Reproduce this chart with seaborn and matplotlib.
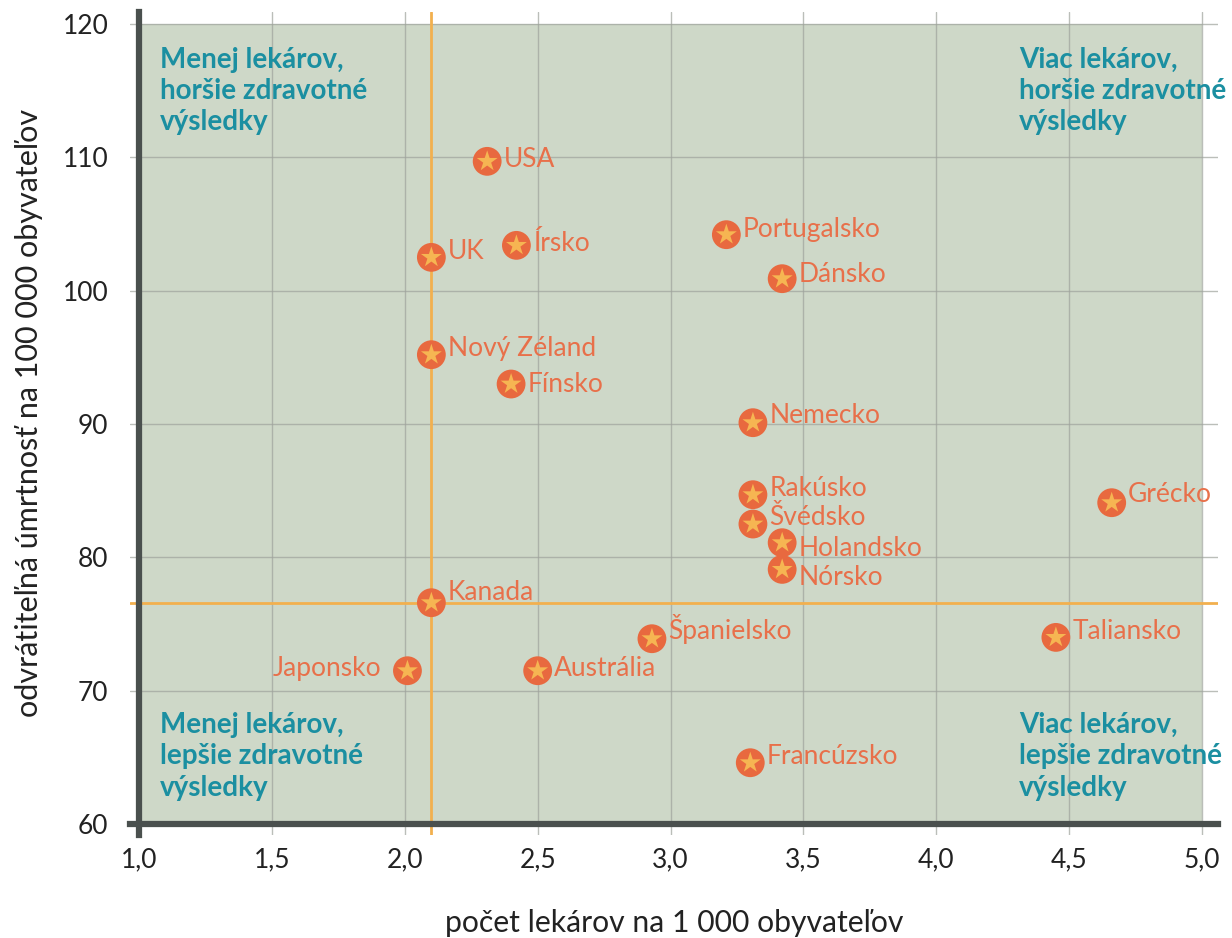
import matplotlib
matplotlib.use("Agg")
import matplotlib.pyplot as plt
import seaborn as sns
import pandas as pd
from matplotlib.patches import Rectangle

countries = ["USA", "UK", "Írsko", "Portugalsko", "Dánsko", "Nový Zéland", "Fínsko",
             "Nemecko", "Rakúsko", "Švédsko", "Holandsko", "Nórsko", "Grécko",
             "Kanada", "Španielsko", "Taliansko", "Japonsko", "Austrália", "Francúzsko"]
doctors = [2.31, 2.10, 2.42, 3.21, 3.42, 2.10, 2.40,
           3.31, 3.31, 3.31, 3.42, 3.42, 4.66,
           2.10, 2.93, 4.45, 2.01, 2.50, 3.30]
mortality = [109.7, 102.5, 103.4, 104.2, 100.9, 95.2, 93.0,
             90.1, 84.7, 82.5, 81.1, 79.1, 84.1,
             76.6, 73.9, 74.0, 71.5, 71.5, 64.6]
median_x = 2.1
median_y = 76.6
x_ticks = [1.0, 1.5, 2.0, 2.5, 3.0, 3.5, 4.0, 4.5, 5.0]
x_ticklabels = ["1,0", "1,5", "2,0", "2,5", "3,0", "3,5", "4,0", "4,5", "5,0"]
y_ticks = [60, 70, 80, 90, 100, 110, 120]
quadrants = ["Menej lekárov,\nhoršie zdravotné\nvýsledky",
             "Viac lekárov,\nhoršie zdravotné\nvýsledky",
             "Menej lekárov,\nlepšie zdravotné\nvýsledky",
             "Viac lekárov,\nlepšie zdravotné\nvýsledky"]
xlabel = "počet lekárov na 1 000 obyvateľov"
ylabel = "odvrátiteľná úmrtnosť na 100 000 obyvateľov"

# label nudges (layout only)
label_dy = {"USA": 0.15, "UK": 0.45, "Írsko": 0.15, "Portugalsko": 0.4, "Dánsko": 0.3,
            "Nový Zéland": 0.5, "Fínsko": 0.0, "Nemecko": 0.55, "Rakúsko": 0.45,
            "Švédsko": 0.5, "Holandsko": -0.45, "Nórsko": -0.6, "Grécko": 0.6,
            "Kanada": 0.75, "Španielsko": 0.7, "Taliansko": 0.45, "Japonsko": 0.15,
            "Austrália": 0.15, "Francúzsko": 0.5}

df = pd.DataFrame({"country": countries, "x": doctors, "y": mortality})

sns.set_theme(style="white")
plt.rcParams['font.family'] = ['Lato', 'DejaVu Sans']

fig = plt.figure(figsize=(12.32, 9.38), dpi=100)
ax = fig.add_axes([130/1232, 1 - 835/938, (1218-130)/1232, (835-12)/938])
ax.set_facecolor("white")

ax.set_xlim(0.966, 5.06)
ax.set_ylim(59.18, 120.9)

ax.add_patch(Rectangle((1.0, 60), 4.0, 60, facecolor="#CED8C8", edgecolor="none", zorder=0))

for xv in x_ticks:
    ax.axvline(xv, color="#9EA39C", lw=1.0, alpha=0.7, zorder=1)
for yv in y_ticks:
    ax.axhline(yv, color="#9EA39C", lw=1.0, alpha=0.7, zorder=1)

ax.axvline(median_x, color="#F2B04E", lw=2.0, zorder=2)
ax.axhline(median_y, color="#F2B04E", lw=2.0, zorder=2)

sns.scatterplot(data=df, x="x", y="y", ax=ax, s=430, color="#E8693F",
                edgecolor="none", zorder=4, legend=False)
sns.scatterplot(data=df, x="x", y="y", ax=ax, s=250, marker="*", color="#F6B552",
                edgecolor="none", zorder=5, legend=False)

for c, xv, yv in zip(countries, doctors, mortality):
    dy = label_dy.get(c, 0.0)
    if c == "Japonsko":
        ax.text(xv - 0.1, yv + dy, c, ha="right", va="center", fontsize=19,
                color="#E8704A", zorder=6)
    else:
        ax.text(xv + 0.062, yv + dy, c, ha="left", va="center", fontsize=19,
                color="#E8704A", zorder=6)

qc = "#1B8FA1"
qpos = [(1.08, 118.3), (4.31, 118.3), (1.08, 68.4), (4.31, 68.4)]
for (qx, qy), txt in zip(qpos, quadrants):
    ax.text(qx, qy, txt, ha="left", va="top", fontsize=20, fontweight="bold",
            color=qc, linespacing=1.25, zorder=6)

for s in ["top", "right"]:
    ax.spines[s].set_visible(False)
ax.spines["left"].set_position(("data", 1.0))
ax.spines["bottom"].set_position(("data", 60))
for s in ["left", "bottom"]:
    ax.spines[s].set_color("#4A504E")
    ax.spines[s].set_linewidth(4.5)
    ax.spines[s].set_zorder(7)

ax.set_xticks(x_ticks)
ax.set_xticklabels(x_ticklabels)
ax.set_yticks(y_ticks)
ax.set_yticklabels([str(v) for v in y_ticks])
ax.tick_params(axis="both", which="major", labelsize=19, labelcolor="#222222",
               direction="inout", length=4, width=1.5, color="#E6E2C8")
ax.tick_params(axis="x", pad=15)
ax.tick_params(axis="y", pad=20)

ax.set_xlabel(xlabel, fontsize=21.7, color="#222222", labelpad=26)
ax.set_ylabel(ylabel, fontsize=22, color="#222222")
ax.yaxis.set_label_coords(-0.080, 0.513)

fig.savefig("out.png", dpi=100)
